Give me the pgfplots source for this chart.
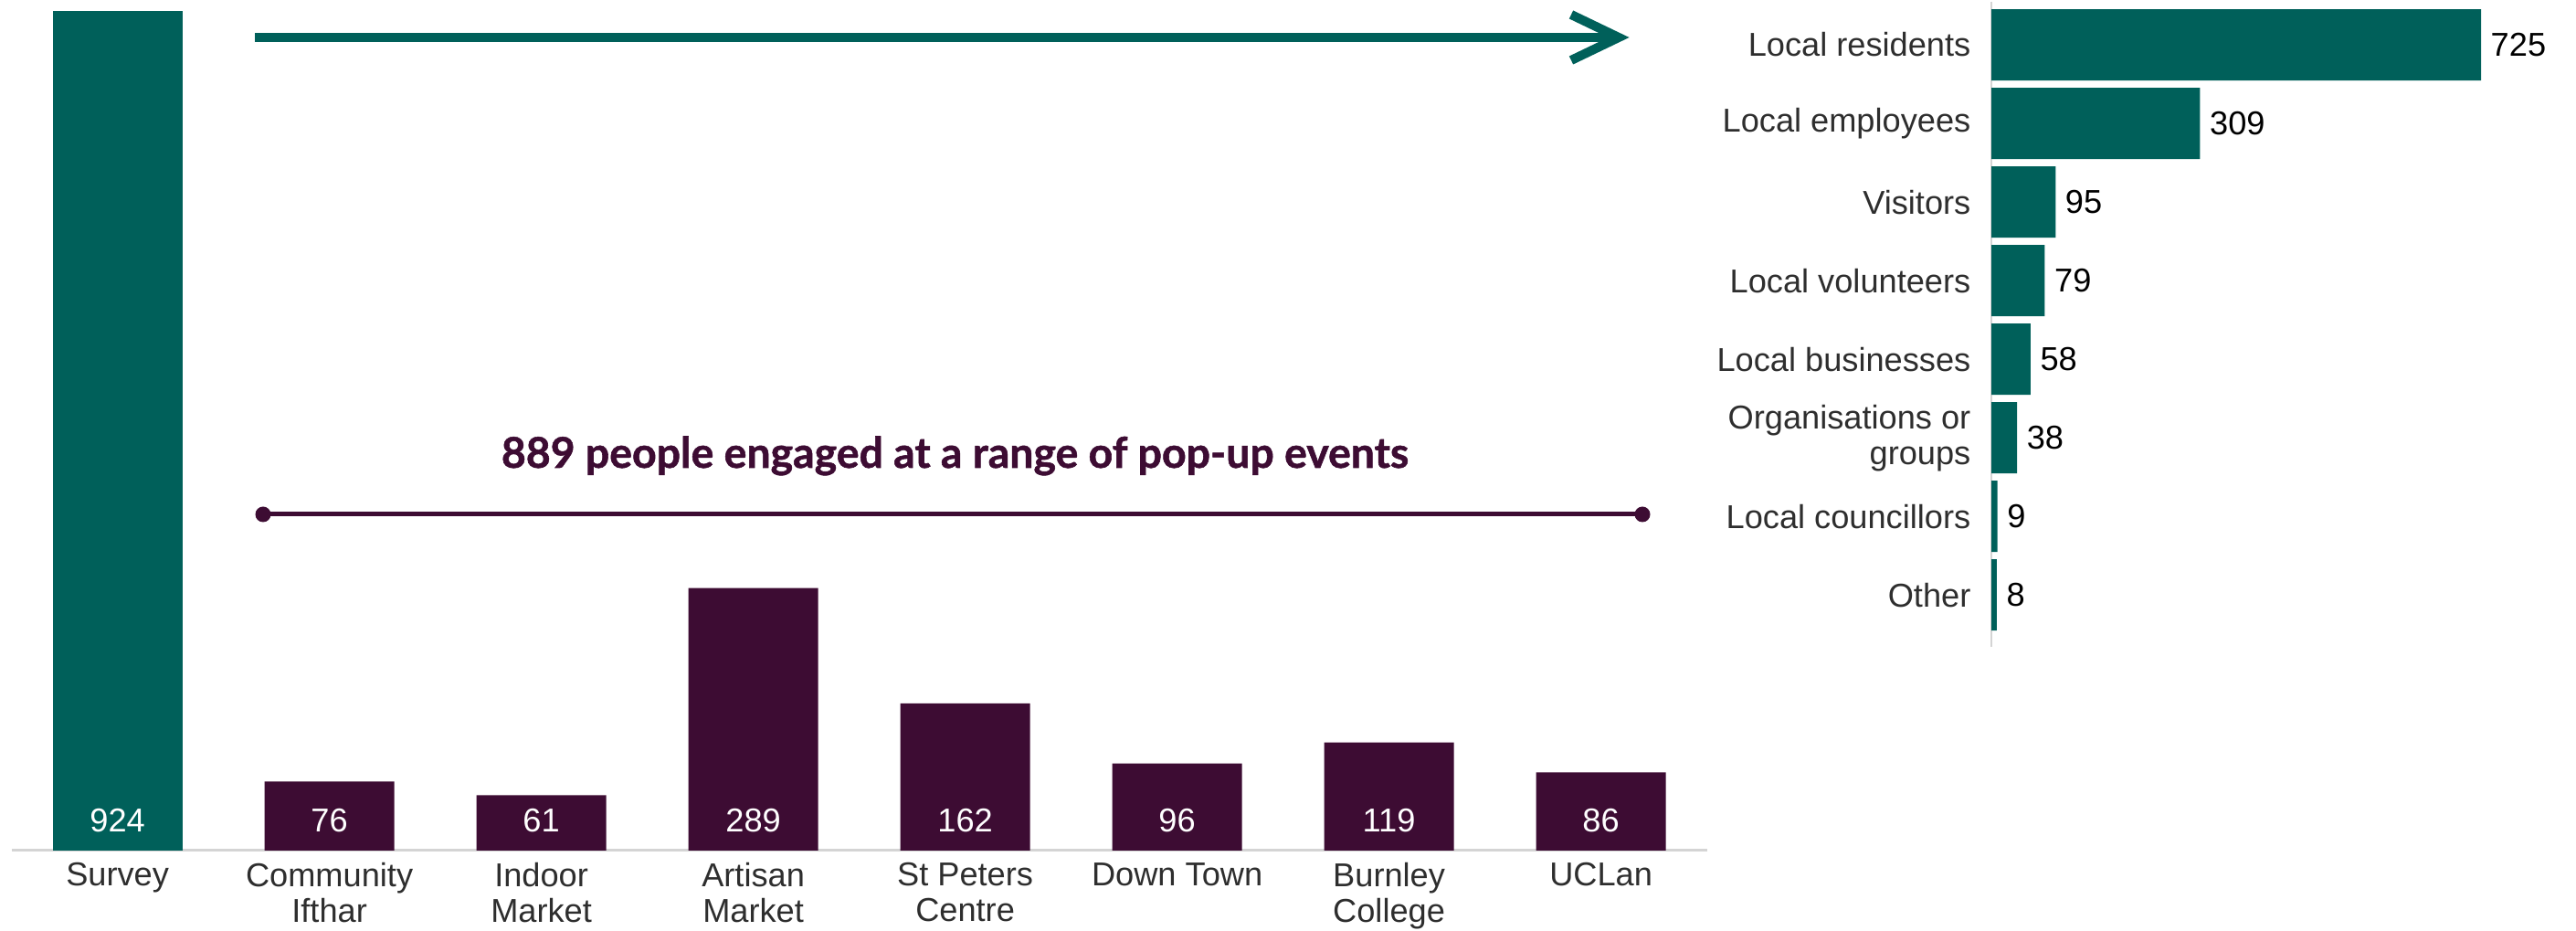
\documentclass[border=0pt]{standalone}
\usepackage{fontspec}
\setmainfont{Liberation Sans}
\newfontfamily\titlefont{Lato}[BoldFeatures={FakeBold=1.2}]
\usepackage{pgfplots}
\pgfplotsset{compat=1.18}

\definecolor{tealbar}{HTML}{00605A}
\definecolor{plum}{HTML}{3D0C33}
\definecolor{txt}{HTML}{2E2E2E}
\definecolor{axisgrey}{HTML}{D4D4D4}

\newcommand{\lbl}{\fontsize{10.3}{11.1}\selectfont}

\begin{document}
\begin{tikzpicture}
\useasboundingbox (0,0) rectangle (28.2,10.19);

% left: survey vs pop-up events
\begin{axis}[
    at={(0.126cm,0.88cm)}, anchor=south west,
    scale only axis, width=18.56cm, height=9.25cm,
    xmin=-0.5, xmax=7.5, ymin=0, ymax=930,
    axis x line=bottom, axis y line=none,
    x axis line style={-, draw=axisgrey, line width=0.03cm},
    xtick={0,...,7},
    xticklabels={Survey, Community\\Ifthar, Indoor\\Market, Artisan\\Market,
                 St Peters\\Centre, Down Town, Burnley\\College, UCLan},
    xticklabel style={align=center, text=txt, font=\lbl, inner sep=0pt,
                      anchor=north, yshift=-0.13cm},
    major tick length=0pt,
    /pgf/number format/assume math mode=true,
    clip=false,
]
\addplot[ybar, bar width=0.612, bar shift=0pt, fill=tealbar, draw=none]
    coordinates {(0,924)};
\addplot[ybar, bar width=0.612, bar shift=0pt, fill=plum, draw=none]
    coordinates {(1,76) (2,61) (3,289) (4,162) (5,96) (6,119) (7,86)};
% values inside the bars
\addplot[draw=none, mark=none, nodes near coords, point meta=explicit,
    nodes near coords style={white, font=\lbl, inner sep=0pt, anchor=base, yshift=0.2cm}]
    coordinates {(0,0)[924] (1,0)[76] (2,0)[61] (3,0)[289]
                 (4,0)[162] (5,0)[96] (6,0)[119] (7,0)[86]};
\end{axis}

% right: who took the survey
\begin{axis}[
    at={(21.80cm,3.11cm)}, anchor=south west,
    scale only axis, width=6.395cm, height=7.06cm,
    xmin=0, xmax=865, ymin=-0.547, ymax=7.66, y dir=reverse,
    axis y line=left, axis x line=none,
    y axis line style={-, draw=axisgrey, line width=0.027cm},
    ytick={0,...,7},
    yticklabels={Local residents, Local employees, Visitors, Local volunteers,
                 Local businesses, Organisations or\\groups, Local councillors, Other},
    yticklabel style={align=right, text=txt, font=\lbl, inner sep=0pt,
                      anchor=east, xshift=-0.22cm},
    major tick length=0pt,
    xbar, bar width=0.907, bar shift=0pt,
    nodes near coords,
    nodes near coords style={black, font=\lbl, inner sep=0pt, anchor=west, xshift=0.1cm},
    /pgf/number format/assume math mode=true,
    clip=false,
]
\addplot[fill=tealbar, draw=none]
    coordinates {(725,0) (309,1) (95,2) (79,3) (58,4) (38,5) (9,6) (8,7)};
\end{axis}

% arrow from the survey bar to the breakdown
\draw[tealbar, line width=0.1cm] (2.79,9.78) -- (17.72,9.78);
\draw[tealbar, line width=0.1cm] (17.20,10.03) -- (17.72,9.78) -- (17.20,9.53);

% bracket over the pop-up events
\draw[plum, line width=0.05cm] (2.88,4.56) -- (17.98,4.56);
\fill[plum] (2.88,4.56) circle (0.085);
\fill[plum] (17.98,4.56) circle (0.085);
\node[anchor=base, text=plum, inner sep=0pt,
      font=\titlefont\bfseries\fontsize{13.2}{14}\selectfont] at (10.455,5.07)
    {889 people engaged at a range of pop-up events};
\end{tikzpicture}
\end{document}
